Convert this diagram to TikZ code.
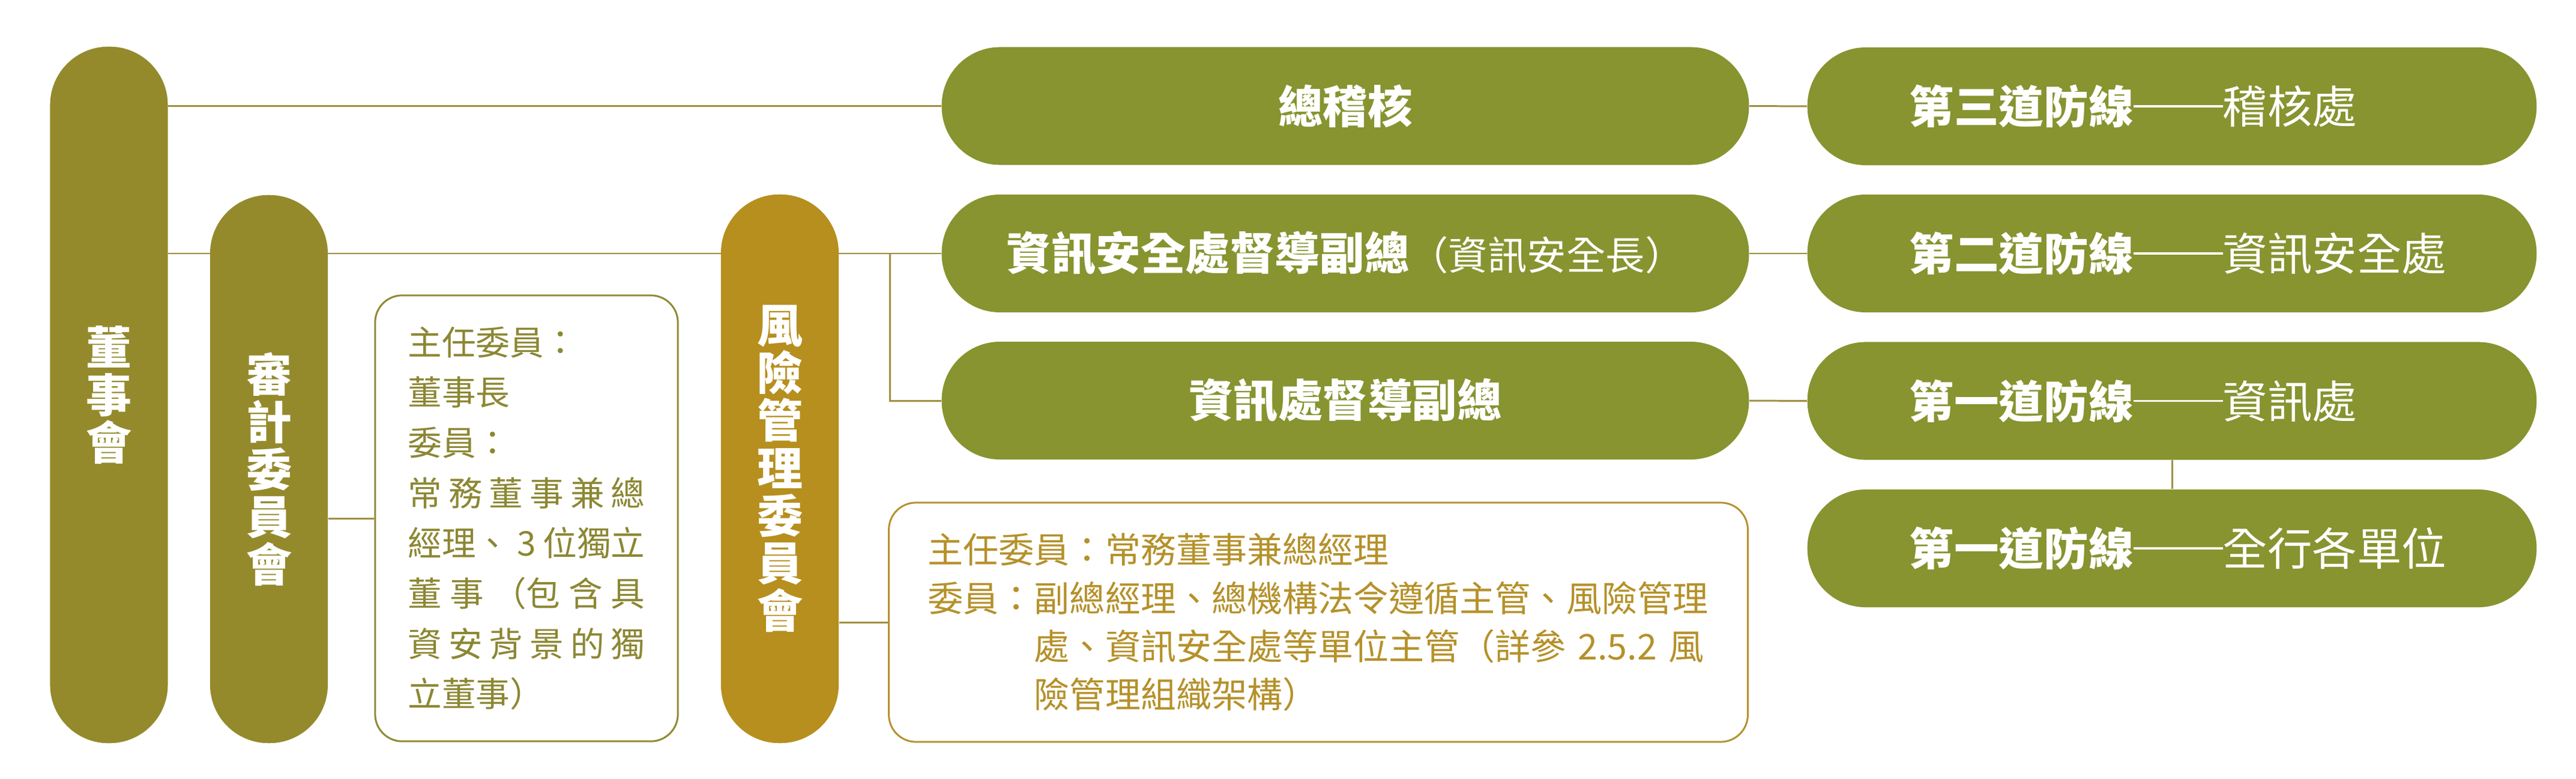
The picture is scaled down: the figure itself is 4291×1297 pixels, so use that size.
\documentclass[tikz,border=0pt]{standalone}
\usepackage{fontspec}
\setmainfont{Noto Sans CJK TC}
\usetikzlibrary{backgrounds}
\definecolor{boardc}{HTML}{948A2C}
\definecolor{riskc}{HTML}{B68F1E}
\definecolor{greenc}{HTML}{879430}
\definecolor{linec}{HTML}{9E9040}
\definecolor{lboxc}{HTML}{8F8A35}
\definecolor{rboxc}{HTML}{B59130}
\definecolor{ltxt}{HTML}{8C8733}
\definecolor{rtxt}{HTML}{B5912A}
\newcommand{\twodash}{\rule[0.36em]{2em}{0.045em}}
\begin{document}
\begin{tikzpicture}[x=0.01cm,y=-0.01cm,
  vpill/.style={fill=#1, draw=none, rounded corners=0.97cm, minimum width=1.96cm, inner sep=0pt, text=white, align=center, font=\fontsize{21.6pt}{22.5pt}\selectfont\bfseries},
  hpill/.style={fill=greenc, draw=none, rounded corners=0.97cm, minimum height=1.96cm, inner sep=0pt, text=white, font=\fontsize{21.2pt}{25pt}\selectfont\bfseries},
  infobox/.style={draw=#1, line width=0.85pt, rounded corners=0.45cm, fill=white, inner sep=0pt},
  conn/.style={draw=linec, line width=0.85pt}
]
\useasboundingbox (0,0) rectangle (4291,1297);

% left column pills
\node[vpill=boardc, minimum height=11.59cm] (board) at (181.5,657.5) {董\\事\\會};
\node[vpill=boardc, minimum height=9.12cm] (audit) at (448,781) {審\\計\\委\\員\\會};
\node[vpill=riskc, minimum height=9.13cm] (risk) at (1299,780.5) {風\\險\\管\\理\\委\\員\\會};

% info boxes
\node[infobox=lboxc, minimum width=5.04cm, minimum height=7.42cm, text=ltxt, text width=3.95cm, align=left, font=\fontsize{16.1pt}{23.8pt}\selectfont] (auditbox) at (877,863)
{主任委員：\\董事長\\委員：\\
\makebox[3.95cm][s]{常\hfill 務\hfill 董\hfill 事\hfill 兼\hfill 總}\\
\makebox[3.95cm][s]{經理、\hfill 3\hfill 位獨立}\\
\makebox[3.95cm][s]{董\hfill 事\hfill （包\hfill 含\hfill 具}\\
\makebox[3.95cm][s]{資\hfill 安\hfill 背\hfill 景\hfill 的\hfill 獨}\\
立董事）};

\node[infobox=rboxc, minimum width=14.3cm, minimum height=3.98cm, text=rtxt, text width=13.0cm, align=left, font=\fontsize{16.8pt}{22.8pt}\selectfont] (riskbox) at (2196,1036)
{主任委員：常務董事兼總經理\\
委員：副總經理、總機構法令遵循主管、風險管理\\
\hspace*{3em}處、資訊安全處等單位主管（詳參 2.5.2 風\\
\hspace*{3em}險管理組織架構）};

% middle pills
\node[hpill, minimum width=13.44cm] (gaudit) at (2241,176.5) {總稽核};
\node[hpill, minimum width=13.44cm] (ciso) at (2241,422) {資訊安全處督導副總{\mdseries\fontsize{18.6pt}{20pt}\selectfont（資訊安全長）}};
\node[hpill, minimum width=13.44cm] (itvp) at (2241,667) {資訊處督導副總};

% right pills
\node[hpill, minimum width=12.14cm] (line3) at (3618,177) {\makebox[8.74cm][l]{第三道防線{\mdseries\twodash 稽核處}}};
\node[hpill, minimum width=12.14cm] (line2) at (3618,422) {\makebox[8.74cm][l]{第二道防線{\mdseries\twodash 資訊安全處}}};
\node[hpill, minimum width=12.14cm] (line1a) at (3618,667.5) {\makebox[8.74cm][l]{第一道防線{\mdseries\twodash 資訊處}}};
\node[hpill, minimum width=12.14cm] (line1b) at (3618,913) {\makebox[8.74cm][l]{第一道防線{\mdseries\twodash 全行各單位}}};

\coordinate (branch) at (1482,422);

\begin{scope}[on background layer]
\draw[conn] (gaudit.west -| board.east) -- (gaudit.west);
\draw[conn] (ciso.west -| board.east) -- (ciso.west);
\draw[conn] (branch) |- (itvp.west);
\draw[conn] (auditbox.west -| audit.east) -- (auditbox.west);
\draw[conn] (riskbox.west -| risk.east) -- (riskbox.west);
\draw[conn] (gaudit.east) -- (line3.west);
\draw[conn] (ciso.east) -- (line2.west);
\draw[conn] (itvp.east) -- (line1a.west);
\draw[conn] (line1a.south) -- (line1b.north);
\end{scope}
\end{tikzpicture}
\end{document}
